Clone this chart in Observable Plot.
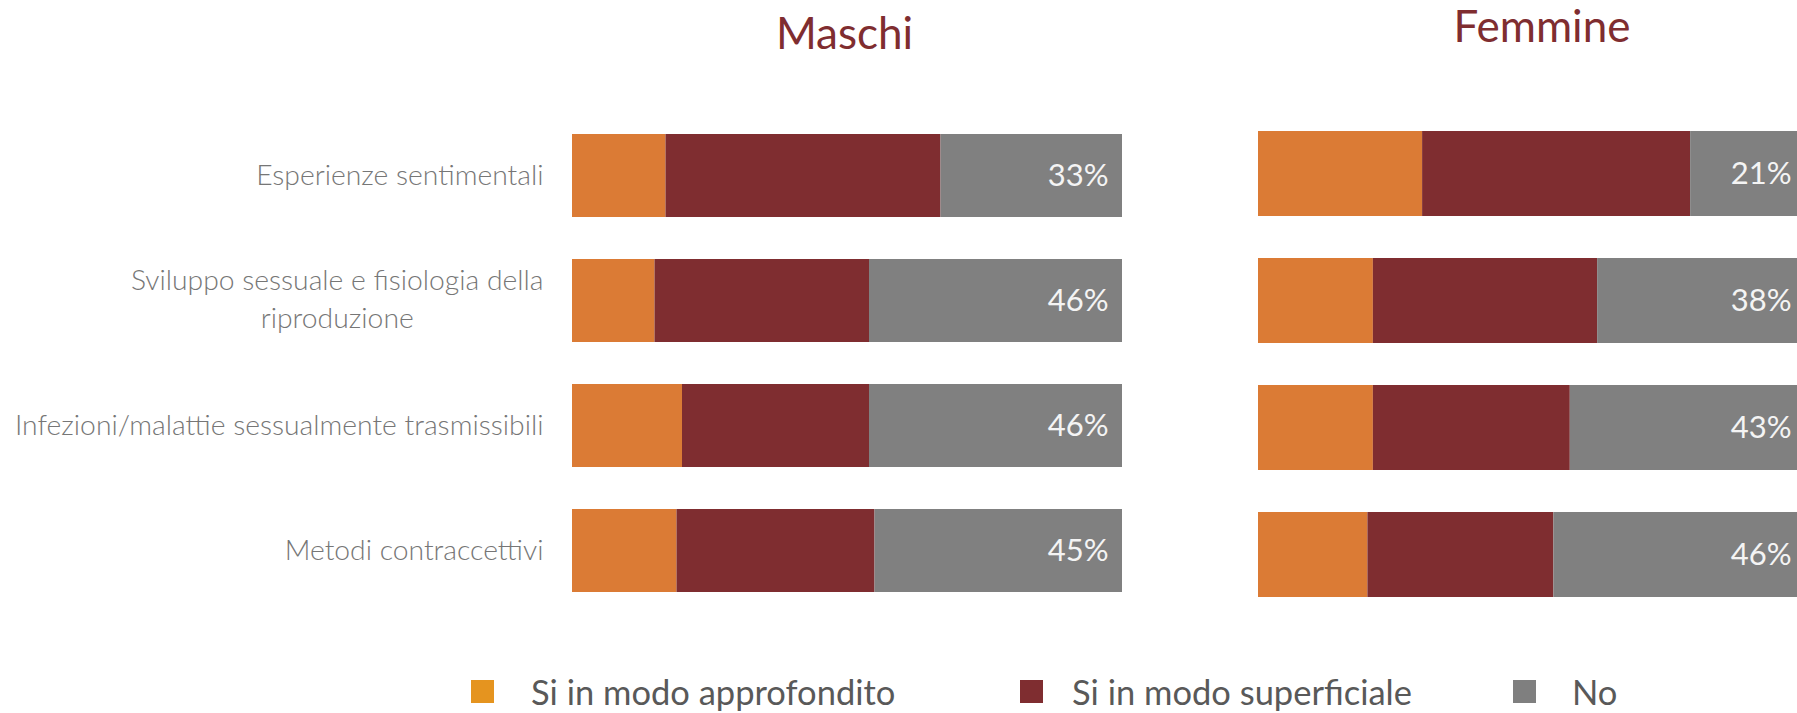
<!DOCTYPE html>
<html>
<head>
<meta charset="utf-8">
<script src="https://cdn.jsdelivr.net/npm/d3@7"></script>
<script src="https://cdn.jsdelivr.net/npm/@observablehq/plot@0.6"></script>
<style>
  html, body { margin: 0; padding: 0; background: #fff; overflow: hidden; }
  #chart { position: relative; width: 1797px; height: 713px; overflow: hidden; background: #fff; }
  #chart svg { position: absolute; top: 0; }
  .lg-item { position: absolute; top: 671px; display: flex; align-items: flex-end; font-family: Lato, sans-serif; font-size: 34.5px; color: #595959; line-height: 1.2; white-space: nowrap; }
  .lg-swatch { width: 23px; height: 23px; margin-bottom: 9px; }
</style>
</head>
<body>
<div id="chart"></div>
<script>
// ---- data ----
const categories = [
  "Esperienze sentimentali",
  "Sviluppo sessuale e fisiologia della riproduzione",
  "Infezioni/malattie sessualmente trasmissibili",
  "Metodi contraccettivi"
];
const categoryLines = [
  ["Esperienze sentimentali"],
  ["Sviluppo sessuale e fisiologia della", "riproduzione"],
  ["Infezioni/malattie sessualmente trasmissibili"],
  ["Metodi contraccettivi"]
];
const seriesNames = ["Si in modo approfondito", "Si in modo superficiale", "No"];
const panelTitles = ["Maschi", "Femmine"];

const maschiApprofondito = [17, 15, 20, 19];
const maschiSuperficiale = [50, 39, 34, 36];
const maschiNo = [33, 46, 46, 45];

const femmineApprofondito = [30, 21, 21, 20];
const femmineSuperficiale = [49, 41, 36, 34];
const femmineNo = [21, 38, 43, 46];

const barColors = ["#DB7B35", "#7F2D30", "#808080"];
const legendColors = ["#E5941F", "#7F2D30", "#7F7F7F"];

// ---- build tables ----
function longTable(a, s, n) {
  const rows = [];
  categories.forEach((c, i) => {
    rows.push({category: c, series: seriesNames[0], value: a[i]});
    rows.push({category: c, series: seriesNames[1], value: s[i]});
    rows.push({category: c, series: seriesNames[2], value: n[i]});
  });
  return rows;
}
const maschiRows = longTable(maschiApprofondito, maschiSuperficiale, maschiNo);
const femmineRows = longTable(femmineApprofondito, femmineSuperficiale, femmineNo);
const maschiNoRows = categories.map((c, i) => ({category: c, value: maschiNo[i]}));
const femmineNoRows = categories.map((c, i) => ({category: c, value: femmineNo[i]}));

const chart = document.getElementById("chart");

// measure label lines with a temporary SVG text in the same font
const labelSize = 28.3;
const NS = "http://www.w3.org/2000/svg";
const tmpSvg = document.createElementNS(NS, "svg");
tmpSvg.setAttribute("width", 10); tmpSvg.setAttribute("height", 10);
chart.appendChild(tmpSvg);
function measure(s) {
  const t = document.createElementNS(NS, "text");
  t.setAttribute("font-family", "Lato, sans-serif");
  t.setAttribute("font-size", labelSize);
  t.setAttribute("font-weight", 300);
  t.textContent = s;
  tmpSvg.appendChild(t);
  const w = t.getComputedTextLength();
  t.remove();
  return w;
}
const labelRows = categories.map((c, i) => {
  const lines = categoryLines[i];
  const w = Math.max(...lines.map(measure));
  return {category: c, text: lines.join("\n"), multi: lines.length > 1, half: w / 2};
});
tmpSvg.remove();

const common = (W, ml, mr, mt, mb, pad) => ({
  width: W, height: 713,
  marginLeft: ml, marginRight: mr, marginTop: mt, marginBottom: mb,
  x: {domain: [0, 100], axis: null},
  y: {domain: categories, axis: null, padding: pad},
  color: {domain: seriesNames, range: barColors},
  style: {fontFamily: "Lato, sans-serif", background: "transparent"}
});

const labelStyle = {fill: "#767676", fontSize: labelSize, fontWeight: 300};
const pctStyle = {textAnchor: "end", dx: -14, fill: "#f4f4f4", fontSize: 31};

const left = Plot.plot({
  ...common(1140, 572, 18, 91.4, 78.8, 0.332),
  marks: [
    Plot.barX(maschiRows, Plot.stackX({x: "value", y: "category", fill: "series"})),
    Plot.text(maschiNoRows, {x: 100, y: "category", text: d => d.value + "%", ...pctStyle}),
    Plot.text(labelRows.filter(d => !d.multi), {x: 0, y: "category", text: "text", textAnchor: "end", dx: -29, ...labelStyle}),
    ...labelRows.filter(d => d.multi).map(d =>
      Plot.text([d], {x: 0, y: "category", text: "text", textAnchor: "middle", dx: -29 - d.half, dy: -4, lineHeight: 1.35, ...labelStyle})),
    Plot.text([panelTitles[0]], {frameAnchor: "top", dx: -3, dy: -43, lineAnchor: "bottom", fill: "#7F2D30", fontSize: 44})
  ]
});
left.style.left = "0px";

const right = Plot.plot({
  ...common(657, 118, -8, 88.5, 74, 0.331),
  marks: [
    Plot.barX(femmineRows, Plot.stackX({x: "value", y: "category", fill: "series"})),
    Plot.text(femmineNoRows, {x: 100, y: "category", text: d => d.value + "%", ...pctStyle}),
    Plot.text([panelTitles[1]], {frameAnchor: "top", dx: 10, dy: -47, lineAnchor: "bottom", fill: "#7F2D30", fontSize: 44})
  ]
});
right.style.left = "1140px";

chart.appendChild(left);
chart.appendChild(right);

// legend
const legendLefts = [471, 1020, 1513];
const legendGaps = [37, 29, 36];
seriesNames.forEach((name, i) => {
  const item = document.createElement("div");
  item.className = "lg-item";
  item.style.left = legendLefts[i] + "px";
  const sw = document.createElement("div");
  sw.className = "lg-swatch";
  sw.style.background = legendColors[i];
  sw.style.marginRight = legendGaps[i] + "px";
  const tx = document.createElement("span");
  tx.textContent = name;
  item.appendChild(sw);
  item.appendChild(tx);
  chart.appendChild(item);
});
</script>
</body>
</html>
